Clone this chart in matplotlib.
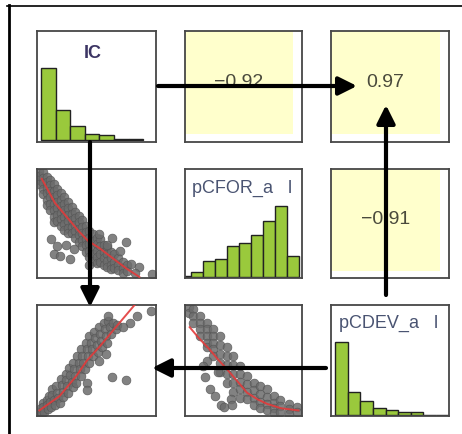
import matplotlib
matplotlib.use('Agg')
import matplotlib.pyplot as plt
from matplotlib.patches import Rectangle, FancyArrowPatch
from matplotlib.lines import Line2D
import numpy as np

plt.rcParams['font.family'] = ['Liberation Sans Narrow', 'Liberation Sans', 'DejaVu Sans']

# --- data (panel-normalised 0..1 for scatters) ---
var_labels = ["IC", "pCFOR_a   l", "pCDEV_a   l"]
corr_labels = {(0, 1): "\u22120.92", (0, 2): "0.97", (1, 2): "\u22120.91"}

ic_counts = [218, 92, 42, 20, 15, 3, 3]
pcfor_counts = [4, 15, 47, 55, 93, 102, 125, 170, 213, 63]
pcdev_counts = [220, 70, 42, 23, 15, 10, 9, 2, 2]

ic_pcfor_pts = [
    (0.02, 0.98), (0.02, 0.94), (0.02, 0.90), (0.02, 0.86),
    (0.05, 0.97), (0.05, 0.92), (0.05, 0.87), (0.05, 0.82), (0.05, 0.77),
    (0.08, 0.93), (0.08, 0.88), (0.08, 0.83), (0.08, 0.78), (0.08, 0.72), (0.08, 0.67),
    (0.11, 0.90), (0.11, 0.85), (0.11, 0.80), (0.11, 0.74), (0.11, 0.68), (0.11, 0.62),
    (0.14, 0.86), (0.14, 0.80), (0.14, 0.74), (0.14, 0.68), (0.14, 0.62), (0.14, 0.56), (0.14, 0.51),
    (0.17, 0.82), (0.17, 0.76), (0.17, 0.70), (0.17, 0.64), (0.17, 0.58), (0.17, 0.52),
    (0.20, 0.78), (0.20, 0.72), (0.20, 0.66), (0.20, 0.60), (0.20, 0.54), (0.20, 0.48),
    (0.23, 0.74), (0.23, 0.68), (0.23, 0.62), (0.23, 0.56), (0.23, 0.50), (0.23, 0.44),
    (0.26, 0.70), (0.26, 0.64), (0.26, 0.58), (0.26, 0.52), (0.26, 0.46), (0.26, 0.41),
    (0.29, 0.65), (0.29, 0.59), (0.29, 0.53), (0.29, 0.47), (0.29, 0.41),
    (0.32, 0.61), (0.32, 0.55), (0.32, 0.49), (0.32, 0.43), (0.32, 0.37),
    (0.35, 0.57), (0.35, 0.51), (0.35, 0.45), (0.35, 0.39), (0.35, 0.33),
    (0.38, 0.53), (0.38, 0.47), (0.38, 0.41), (0.38, 0.35), (0.38, 0.29),
    (0.41, 0.48), (0.41, 0.42), (0.41, 0.36), (0.41, 0.30), (0.41, 0.24),
    (0.44, 0.43), (0.44, 0.37), (0.44, 0.31), (0.44, 0.25), (0.44, 0.19),
    (0.47, 0.40), (0.47, 0.34), (0.47, 0.28), (0.47, 0.22), (0.47, 0.16),
    (0.50, 0.37), (0.50, 0.31), (0.50, 0.25), (0.50, 0.19), (0.50, 0.14),
    (0.53, 0.36), (0.53, 0.29), (0.53, 0.22), (0.53, 0.15),
    (0.56, 0.30), (0.56, 0.24), (0.56, 0.18), (0.56, 0.12),
    (0.59, 0.28), (0.59, 0.22), (0.59, 0.16), (0.59, 0.10),
    (0.62, 0.24), (0.62, 0.18), (0.62, 0.12), (0.62, 0.08),
    (0.65, 0.22), (0.65, 0.15), (0.65, 0.09),
    (0.68, 0.18), (0.68, 0.12), (0.68, 0.07),
    (0.72, 0.15), (0.72, 0.09), (0.72, 0.05),
    (0.76, 0.12), (0.76, 0.06),
    (0.12, 0.36), (0.14, 0.22), (0.19, 0.20), (0.17, 0.29), (0.28, 0.17),
    (0.31, 0.27), (0.24, 0.30), (0.44, 0.12), (0.52, 0.40), (0.59, 0.30),
    (0.63, 0.37), (0.75, 0.33), (0.79, 0.13), (0.86, 0.10), (0.97, 0.04),
    (0.82, 0.05), (0.70, 0.25),
]
ic_pcfor_fit = [(0.04, 0.91), (0.15, 0.69), (0.25, 0.56), (0.35, 0.43), (0.43, 0.34),
                (0.53, 0.27), (0.65, 0.17), (0.76, 0.08), (0.86, 0.01)]

ic_pcdev_pts = [
    (0.02, 0.04), (0.03, 0.07), (0.04, 0.03), (0.05, 0.12), (0.05, 0.08), (0.06, 0.04),
    (0.08, 0.14), (0.08, 0.10), (0.09, 0.06), (0.10, 0.18), (0.11, 0.13), (0.12, 0.08),
    (0.13, 0.24), (0.13, 0.19), (0.14, 0.14), (0.15, 0.10), (0.16, 0.27), (0.17, 0.21),
    (0.18, 0.16), (0.19, 0.12), (0.20, 0.33), (0.21, 0.28), (0.22, 0.22), (0.22, 0.17),
    (0.24, 0.38), (0.24, 0.32), (0.25, 0.27), (0.26, 0.21), (0.27, 0.43), (0.28, 0.37),
    (0.29, 0.31), (0.30, 0.26), (0.30, 0.48), (0.31, 0.42), (0.32, 0.36), (0.33, 0.30),
    (0.34, 0.54), (0.35, 0.48), (0.36, 0.42), (0.37, 0.36), (0.37, 0.60), (0.38, 0.54),
    (0.39, 0.48), (0.40, 0.42), (0.41, 0.66), (0.42, 0.60), (0.43, 0.54), (0.44, 0.48),
    (0.44, 0.72), (0.45, 0.66), (0.46, 0.60), (0.47, 0.54), (0.48, 0.76), (0.49, 0.70),
    (0.50, 0.64), (0.51, 0.58), (0.52, 0.80), (0.53, 0.74), (0.54, 0.68), (0.55, 0.62),
    (0.56, 0.84), (0.57, 0.78), (0.58, 0.72), (0.59, 0.66), (0.60, 0.86), (0.61, 0.80),
    (0.62, 0.74), (0.64, 0.84), (0.66, 0.78), (0.67, 0.82),
    (0.42, 0.30), (0.42, 0.23), (0.63, 0.35), (0.75, 0.32), (0.78, 0.84),
    (0.84, 0.90), (0.96, 0.95), (0.60, 0.90), (0.72, 0.80), (0.58, 0.56), (0.52, 0.50),
]
ic_pcdev_fit = [(0.02, 0.05), (0.19, 0.18), (0.33, 0.36), (0.42, 0.50), (0.53, 0.63),
                (0.67, 0.81), (0.82, 1.00)]

pcfor_pcdev_pts = [
    (0.03, 0.98), (0.03, 0.93), (0.07, 0.96), (0.07, 0.90), (0.07, 0.84),
    (0.13, 0.90), (0.13, 0.84), (0.13, 0.78), (0.13, 0.72),
    (0.19, 0.84), (0.19, 0.78), (0.19, 0.72), (0.19, 0.66), (0.19, 0.62),
    (0.24, 0.78), (0.24, 0.72), (0.24, 0.66), (0.24, 0.60), (0.24, 0.54),
    (0.30, 0.72), (0.30, 0.64), (0.30, 0.56), (0.30, 0.48), (0.30, 0.40),
    (0.36, 0.62), (0.36, 0.54), (0.36, 0.46), (0.36, 0.38), (0.36, 0.30),
    (0.41, 0.54), (0.41, 0.46), (0.41, 0.38), (0.41, 0.30), (0.41, 0.22),
    (0.47, 0.45), (0.47, 0.38), (0.47, 0.31), (0.47, 0.24), (0.47, 0.16),
    (0.53, 0.36), (0.53, 0.29), (0.53, 0.22), (0.53, 0.15),
    (0.59, 0.30), (0.59, 0.23), (0.59, 0.16), (0.59, 0.10),
    (0.64, 0.27), (0.64, 0.20), (0.64, 0.13), (0.64, 0.07),
    (0.70, 0.24), (0.70, 0.17), (0.70, 0.11), (0.70, 0.05),
    (0.76, 0.18), (0.76, 0.12), (0.76, 0.07), (0.76, 0.03),
    (0.81, 0.14), (0.81, 0.09), (0.81, 0.04),
    (0.89, 0.11), (0.89, 0.06), (0.89, 0.02),
    (0.96, 0.08), (0.96, 0.04),
    (0.17, 0.35), (0.21, 0.24), (0.26, 0.18), (0.31, 0.10), (0.39, 0.15),
    (0.19, 0.50), (0.28, 0.40), (0.33, 0.08), (0.40, 0.10), (0.15, 0.45),
]
pcfor_pcdev_fit = [(0.04, 0.80), (0.12, 0.70), (0.21, 0.60), (0.29, 0.50), (0.36, 0.42),
                   (0.45, 0.31), (0.53, 0.21), (0.62, 0.15), (0.70, 0.11), (0.82, 0.07),
                   (0.97, 0.05)]

# --- layout (pixels of a 462x435 canvas) ---
W, H = 462, 435
col_x = [37, 185, 331]
col_w = [119, 117, 118]
row_y = [32, 170, 306]
row_h = [111, 109, 111]

GREEN = '#9ac93c'
GRAY = '#6c6c6c'
RED = '#e23a3a'
FRAME = '#474747'

fig = plt.figure(figsize=(W / 100, H / 100), dpi=100)
fig.patch.set_facecolor('white')


def panel(r, c):
    x0, y0 = col_x[c], row_y[r]
    ax = fig.add_axes([x0 / W, 1 - (y0 + row_h[r]) / H, col_w[c] / W, row_h[r] / H])
    ax.set_xticks([]); ax.set_yticks([])
    for s in ax.spines.values():
        s.set_color(FRAME); s.set_linewidth(1.3)
    return ax


def hist(ax, counts, xlim, ylim, label, lx, ly, color, ha='left', weight='normal'):
    idx = np.arange(len(counts))
    ax.bar(idx + 0.5, counts, width=1.0, color=GREEN, edgecolor='#222222', linewidth=1.0)
    ax.set_xlim(*xlim); ax.set_ylim(*ylim)
    ax.text(lx, ly, label, transform=ax.transAxes, ha=ha, va='center',
            fontsize=13, color=color, fontweight=weight)


def scatter(ax, pts, fit):
    p = np.array(pts); f = np.array(fit)
    ax.scatter(p[:, 0], p[:, 1], s=40, color=GRAY, alpha=0.85, edgecolors='#555555',
               linewidths=0.5, zorder=2, clip_on=True)
    ax.plot(f[:, 0], f[:, 1], color=RED, lw=1.4, alpha=0.9, zorder=3)
    ax.set_xlim(0, 1); ax.set_ylim(0, 1)


def corr(ax, txt, fw, fh):
    ax.add_patch(Rectangle((0, 1 - fh), fw, fh, transform=ax.transAxes,
                           facecolor='#ffffcc', edgecolor='none', zorder=0))
    ax.text(fw / 2, 1 - fh / 2 + 0.01, txt, transform=ax.transAxes, ha='center', va='center',
            fontsize=14, color='#4a4a3c')


# diagonal histograms
hist(panel(0, 0), ic_counts, (-0.27, 7.87), (-5, 328), var_labels[0], 0.47, 0.81,
     '#3c3564', ha='center', weight='bold')
hist(panel(1, 1), pcfor_counts, (0.5, 10.25), (-3, 325), var_labels[1], 0.06, 0.83, '#4a5472')
hist(panel(2, 2), pcdev_counts, (-0.34, 9.05), (-2, 333), var_labels[2], 0.07, 0.84, '#4a5472')

# lower triangle scatters
scatter(panel(1, 0), ic_pcfor_pts, ic_pcfor_fit)
scatter(panel(2, 0), ic_pcdev_pts, ic_pcdev_fit)
scatter(panel(2, 1), pcfor_pcdev_pts, pcfor_pcdev_fit)

# upper triangle correlations
corr(panel(0, 1), corr_labels[(0, 1)], 0.923, 0.928)
corr(panel(0, 2), corr_labels[(0, 2)], 0.924, 0.928)
corr(panel(1, 2), corr_labels[(1, 2)], 0.924, 0.936)

# outer frame (top and left only)
fig.add_artist(Line2D([7 / W, 1], [1 - 6.5 / H, 1 - 6.5 / H], transform=fig.transFigure,
                      color='black', lw=1.2))
fig.add_artist(Line2D([8.5 / W, 8.5 / W], [0, 1 - 6 / H], transform=fig.transFigure,
                      color='black', lw=2.0))

# arrows
arrows = [((158, 87), (357, 87)), ((90, 143), (90, 308)),
          ((386, 296), (386, 106)), ((326, 369), (152, 369))]
for (xa, ya), (xb, yb) in arrows:
    fig.add_artist(FancyArrowPatch((xa / W, 1 - ya / H), (xb / W, 1 - yb / H),
                                   transform=fig.transFigure,
                                   arrowstyle='-|>,head_length=11,head_width=5.5',
                                   mutation_scale=1, lw=3, color='black',
                                   shrinkA=0, shrinkB=0, zorder=10))

fig.savefig('out.png', dpi=100, facecolor='white')
